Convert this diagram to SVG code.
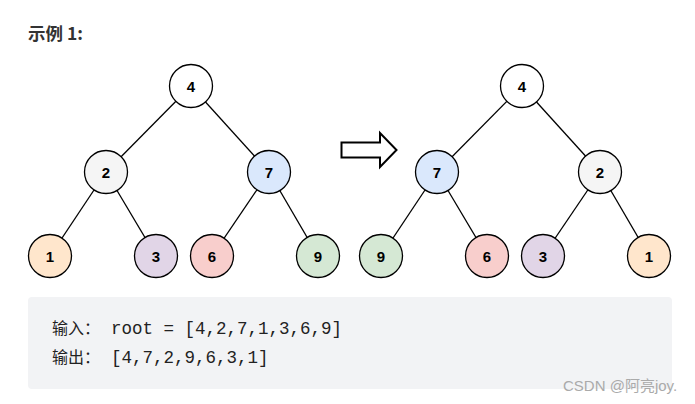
<svg xmlns="http://www.w3.org/2000/svg" width="695" height="404" viewBox="0 0 695 404">
<style>
.e{stroke:#000;stroke-width:1.3;fill:none}
.n{stroke:#000;stroke-width:1.3}
.l{font-family:"Liberation Sans",Arial,sans-serif;font-weight:bold;font-size:15px;text-anchor:middle;fill:#000}
.cjk{font-family:"Noto Sans CJK SC","Liberation Sans",sans-serif;font-size:16px;fill:#222}
.mono{font-family:"Liberation Mono","DejaVu Sans Mono",monospace;font-size:17.5px;fill:#222}
</style>
<rect width="695" height="404" fill="#fff"/>
<text x="28" y="40" font-family="Noto Sans CJK SC,Liberation Sans,sans-serif" font-weight="bold" font-size="17.5" fill="#333">示例 1:</text>
<g id="connectors">
<line class="e" x1="191" y1="86" x2="106" y2="172"/>
<line class="e" x1="191" y1="86" x2="269" y2="172"/>
<line class="e" x1="106" y1="172" x2="50" y2="256"/>
<line class="e" x1="106" y1="172" x2="156" y2="256"/>
<line class="e" x1="269" y1="172" x2="212" y2="256"/>
<line class="e" x1="269" y1="172" x2="318" y2="256"/>
<line class="e" x1="522" y1="86" x2="437" y2="172"/>
<line class="e" x1="522" y1="86" x2="600" y2="172"/>
<line class="e" x1="437" y1="172" x2="381" y2="256"/>
<line class="e" x1="437" y1="172" x2="487" y2="256"/>
<line class="e" x1="600" y1="172" x2="543" y2="256"/>
<line class="e" x1="600" y1="172" x2="649" y2="256"/>
</g>
<g id="L4"><circle class="n" cx="191" cy="86" r="21.5" fill="#fff"/><text class="l" x="191" y="91.5">4</text></g>
<g id="L2"><circle class="n" cx="106" cy="172" r="21.5" fill="#f5f5f5"/><text class="l" x="106" y="177.5">2</text></g>
<g id="L7"><circle class="n" cx="269" cy="172" r="21.5" fill="#dae8fc"/><text class="l" x="269" y="177.5">7</text></g>
<g id="L1"><circle class="n" cx="50" cy="256" r="21.5" fill="#ffe6cc"/><text class="l" x="50" y="261.5">1</text></g>
<g id="L3"><circle class="n" cx="156" cy="256" r="21.5" fill="#e1d5e7"/><text class="l" x="156" y="261.5">3</text></g>
<g id="L6"><circle class="n" cx="212" cy="256" r="21.5" fill="#f8cecc"/><text class="l" x="212" y="261.5">6</text></g>
<g id="L9"><circle class="n" cx="318" cy="256" r="21.5" fill="#d5e8d4"/><text class="l" x="318" y="261.5">9</text></g>
<g id="arrow"><path d="M341.5 142.5 H380 V133 L396.5 150 L380 167 V157.5 H341.5 Z" fill="#fff" stroke="#000" stroke-width="2"/></g>
<g id="R4"><circle class="n" cx="522" cy="86" r="21.5" fill="#fff"/><text class="l" x="522" y="91.5">4</text></g>
<g id="R7"><circle class="n" cx="437" cy="172" r="21.5" fill="#dae8fc"/><text class="l" x="437" y="177.5">7</text></g>
<g id="R2"><circle class="n" cx="600" cy="172" r="21.5" fill="#f5f5f5"/><text class="l" x="600" y="177.5">2</text></g>
<g id="R9"><circle class="n" cx="381" cy="256" r="21.5" fill="#d5e8d4"/><text class="l" x="381" y="261.5">9</text></g>
<g id="R6"><circle class="n" cx="487" cy="256" r="21.5" fill="#f8cecc"/><text class="l" x="487" y="261.5">6</text></g>
<g id="R3"><circle class="n" cx="543" cy="256" r="21.5" fill="#e1d5e7"/><text class="l" x="543" y="261.5">3</text></g>
<g id="R1"><circle class="n" cx="649" cy="256" r="21.5" fill="#ffe6cc"/><text class="l" x="649" y="261.5">1</text></g>
<rect x="28" y="297" width="644" height="92" rx="4" fill="#f2f3f5"/>
<text class="cjk" x="52" y="334">输入：</text><text class="mono" x="111" y="334">root = [4,2,7,1,3,6,9]</text>
<text class="cjk" x="52" y="363">输出：</text><text class="mono" x="111" y="363">[4,7,2,9,6,3,1]</text>
<text x="563" y="391" font-family="Liberation Sans,Noto Sans CJK SC,sans-serif" font-size="15" fill="#aaa">CSDN @阿亮joy.</text>
</svg>
